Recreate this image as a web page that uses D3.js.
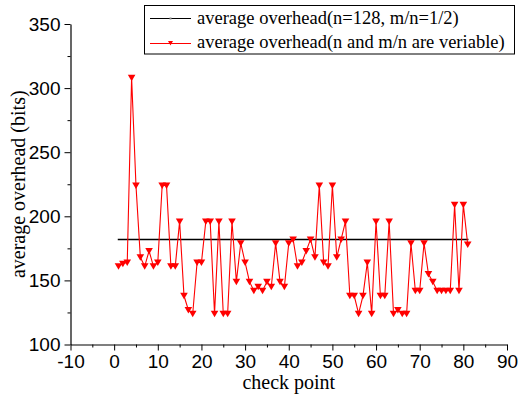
<!DOCTYPE html>
<html>
<head>
<meta charset="utf-8">
<script src="https://cdn.jsdelivr.net/npm/d3@7"></script>
<style>
  html, body { margin: 0; padding: 0; background: #fff; }
  svg { display: block; }
  .tick text { font-family: "Liberation Sans", Arial, sans-serif; font-size: 19px; fill: #000; }
  .title { font-family: "Liberation Serif", "Times New Roman", serif; font-size: 20px; fill: #000; }
  .legend text { font-family: "Liberation Serif", "Times New Roman", serif; font-size: 18.5px; fill: #000; }
</style>
</head>
<body>
<svg id="chart" width="519" height="396"></svg>
<script>
// Average overhead per check point (bits)
const checkPoints = d3.range(1, 82);
const overhead = [
  161, 163, 164, 308, 224, 168, 161, 173, 161, 164,
  224, 224, 161, 161, 196, 138, 127, 124, 164, 164,
  196, 196, 124, 196, 124, 124, 196, 149, 179, 164,
  149, 142, 145, 142, 149, 145, 179, 149, 145, 179,
  182, 161, 164, 173, 182, 168, 224, 164, 161, 224,
  168, 182, 196, 138, 138, 124, 138, 164, 124, 196,
  138, 138, 196, 124, 127, 124, 124, 179, 142, 142,
  179, 155, 149, 142, 142, 142, 142, 209, 142, 209, 178
];
// Reference overhead for n=128, m/n=1/2
const baselineRange = [1, 81];
const baselineValue = 182;

const xTicks = [-10, 0, 10, 20, 30, 40, 50, 60, 70, 80, 90];
const yTicks = [100, 150, 200, 250, 300, 350];

const legendLabels = [
  "average overhead(n=128, m/n=1/2)",
  "average overhead(n and m/n are veriable)"
];

const svg = d3.select("#chart");

const x = d3.scaleLinear().domain([-10, 90]).range([70.5, 507]);
const y = d3.scaleLinear().domain([100, 350]).range([344.5, 24]);
const plain = d => String(d);

// minor ticks
svg.append("g")
  .attr("transform", `translate(0,${y(100)})`)
  .call(d3.axisBottom(x).tickValues(d3.range(-5, 90, 10)).tickSize(3).tickFormat(""))
  .call(g => g.select(".domain").remove())
  .selectAll("line").attr("stroke", "#000");
svg.append("g")
  .attr("transform", `translate(${x(-10)},0)`)
  .call(d3.axisLeft(y).tickValues(d3.range(125, 350, 50)).tickSize(3).tickFormat(""))
  .call(g => g.select(".domain").remove())
  .selectAll("line").attr("stroke", "#000");

// major axes
const xAxis = svg.append("g")
  .attr("transform", `translate(0,${y(100)})`)
  .call(d3.axisBottom(x).tickValues(xTicks).tickFormat(plain).tickSize(6).tickSizeOuter(0).tickPadding(4));
const yAxis = svg.append("g")
  .attr("transform", `translate(${x(-10)},0)`)
  .call(d3.axisLeft(y).tickValues(yTicks).tickFormat(plain).tickSize(6).tickSizeOuter(0).tickPadding(4));
[xAxis, yAxis].forEach(a => {
  a.select(".domain").attr("stroke", "#000").attr("stroke-width", 1.2);
  a.selectAll(".tick line").attr("stroke", "#000");
});

// axis titles
svg.append("text").attr("class", "title")
  .attr("x", (x(-10) + x(90)) / 2).attr("y", 389)
  .attr("text-anchor", "middle").text("check point");
svg.append("text").attr("class", "title")
  .attr("transform", `translate(25,${(y(100) + y(350)) / 2}) rotate(-90)`)
  .attr("text-anchor", "middle").text("average overhead (bits)");

// baseline
svg.append("line")
  .attr("x1", x(baselineRange[0])).attr("x2", x(baselineRange[1]))
  .attr("y1", y(baselineValue)).attr("y2", y(baselineValue))
  .attr("stroke", "#000").attr("stroke-width", 1.5).attr("stroke-linecap", "square");

// varying series
const pts = checkPoints.map((c, i) => ({ c, v: overhead[i] }));
svg.append("path").datum(pts)
  .attr("fill", "none").attr("stroke", "#ff0000").attr("stroke-width", 1.1)
  .attr("d", d3.line().x(d => x(d.c)).y(d => y(d.v)));

const tri = "M-3.8,-3 L3.8,-3 L0,3.5 Z";
svg.append("g").selectAll("path").data(pts).join("path")
  .attr("transform", d => `translate(${x(d.c)},${y(d.v)})`)
  .attr("d", tri).attr("fill", "#ff0000");

// legend
const lg = svg.append("g").attr("class", "legend");
lg.append("rect").attr("x", 144.5).attr("y", 5.5).attr("width", 370).attr("height", 48.5)
  .attr("fill", "#fff").attr("stroke", "#000").attr("stroke-width", 1);
lg.append("line").attr("x1", 150).attr("x2", 191).attr("y1", 18.5).attr("y2", 18.5)
  .attr("stroke", "#000").attr("stroke-width", 1.2);
lg.append("rect").attr("x", 169.5).attr("y", 17.5).attr("width", 2).attr("height", 2).attr("fill", "#888");
lg.append("line").attr("x1", 150).attr("x2", 191).attr("y1", 43.5).attr("y2", 43.5)
  .attr("stroke", "#ff0000").attr("stroke-width", 1.2);
lg.append("path").attr("transform", "translate(170.5,43)").attr("d", "M-2.5,-2 L2.5,-2 L0,2.5 Z").attr("fill", "#ff0000");
lg.append("text").attr("x", 197).attr("y", 24).text(legendLabels[0]);
lg.append("text").attr("x", 197).attr("y", 48).text(legendLabels[1]);
</script>
</body>
</html>
